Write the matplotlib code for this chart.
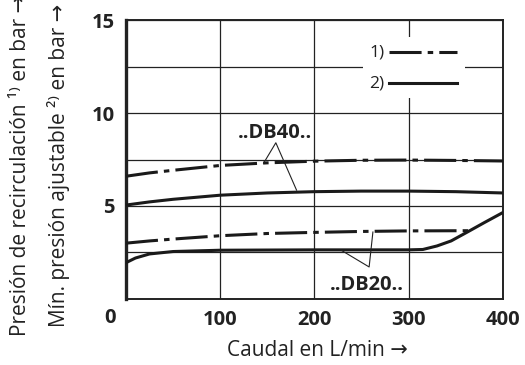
import matplotlib
matplotlib.use("Agg")
import matplotlib.pyplot as plt
from matplotlib.patches import Rectangle

plt.rcParams['font.family'] = ['Open Sans', 'DejaVu Sans']

# Flow (L/min) and pressure (bar) curves
flow_db40 = [0, 25, 50, 100, 150, 200, 250, 300, 350, 400]
circ_db40 = [6.6, 6.78, 6.92, 7.18, 7.32, 7.41, 7.46, 7.47, 7.45, 7.42]
min_db40 = [5.05, 5.22, 5.36, 5.58, 5.7, 5.77, 5.8, 5.8, 5.77, 5.7]

flow_db20_circ = [0, 25, 50, 100, 150, 200, 250, 300, 363]
circ_db20 = [3.0, 3.12, 3.22, 3.4, 3.52, 3.58, 3.63, 3.66, 3.67]

flow_db20_min = [0, 10, 25, 50, 100, 200, 300, 315, 330, 345, 363, 380, 400]
min_db20 = [1.95, 2.2, 2.42, 2.55, 2.62, 2.64, 2.64, 2.66, 2.85, 3.12, 3.62, 4.1, 4.65]

x_ticks = [100, 200, 300, 400]
y_ticks = [5, 10, 15]
x_label = "Caudal en L/min \u2192"
y_label_1 = "Presión de recirculación \u00b9\u207e en bar \u2192"
y_label_2 = "Mín. presión ajustable \u00b2\u207e en bar \u2192"

DASHDOT = (0, (10.5, 2.0, 1.8, 2.0))
LW = 2.2
INK = '#222222'

fig = plt.figure(figsize=(5.25, 3.65), dpi=100)
ax = fig.add_axes([0.24, 0.181, 0.718, 0.764])
ax.set_xlim(0, 400)
ax.set_ylim(0, 15)

ax.set_xticks(x_ticks)
ax.set_xticklabels([str(v) for v in x_ticks], fontsize=14.5, fontweight='bold')
ax.set_yticks(y_ticks)
ax.set_yticklabels([str(v) for v in y_ticks], fontsize=14.5, fontweight='bold')
ax.set_yticks([2.5, 7.5, 12.5], minor=True)
ax.tick_params(which='both', length=0, pad=8, colors=INK)
ax.grid(True, which='both', color=INK, linewidth=0.9)
ax.set_axisbelow(True)
for side in ['top', 'right', 'bottom']:
    ax.spines[side].set_linewidth(1.4)
    ax.spines[side].set_color(INK)
ax.spines['left'].set_linewidth(2.4)
ax.spines['left'].set_color(INK)

# origin label sits left of the corner
ax.text(-17, -1.0, "0", fontsize=14.5, fontweight='bold', color=INK,
        ha='center', va='center', clip_on=False)

ax.plot(flow_db40, circ_db40, color='#1a1a1a', lw=LW, linestyle=DASHDOT, zorder=3)
ax.plot(flow_db40, min_db40, color='#1a1a1a', lw=LW, zorder=3)
ax.plot(flow_db20_circ, circ_db20, color='#1a1a1a', lw=LW, linestyle=DASHDOT, zorder=3)
ax.plot(flow_db20_min, min_db20, color='#1a1a1a', lw=LW, zorder=3)

# legend block
ax.add_patch(Rectangle((251.5, 10.8), 108, 3.3, facecolor='white',
                       edgecolor='none', zorder=1.5))
ax.text(274, 13.28, "1)", fontsize=12.5, ha='right', va='center', color=INK, zorder=4)
ax.text(274, 11.61, "2)", fontsize=12.5, ha='right', va='center', color=INK, zorder=4)
ax.plot([279, 351], [13.28, 13.28], color='#1a1a1a', lw=LW, linestyle=DASHDOT, zorder=4)
ax.plot([279, 351], [11.61, 11.61], color='#1a1a1a', lw=LW, zorder=4)

# curve annotations
ax.text(158, 8.95, "..DB40..", fontsize=14.5, fontweight='bold', ha='center',
        va='center', color=INK, zorder=4)
ax.plot([146, 159, 181], [7.3, 8.4, 5.85], color=INK, lw=0.8, zorder=4)
ax.text(256, 0.75, "..DB20..", fontsize=14.5, fontweight='bold', ha='center',
        va='center', color=INK, zorder=4)
ax.plot([229, 258, 262], [2.6, 1.72, 3.6], color=INK, lw=0.8, zorder=4)

fig.text(317 / 525, 1 - 350 / 365, x_label, fontsize=15, ha='center', va='center',
         color=INK)
fig.text(21 / 525, 1 - 165 / 365, y_label_1, fontsize=15, rotation=90,
         ha='center', va='center', color=INK)
fig.text(59 / 525, 1 - 165 / 365, y_label_2, fontsize=15, rotation=90,
         ha='center', va='center', color=INK)

fig.savefig("out.png", dpi=100, facecolor='white')
